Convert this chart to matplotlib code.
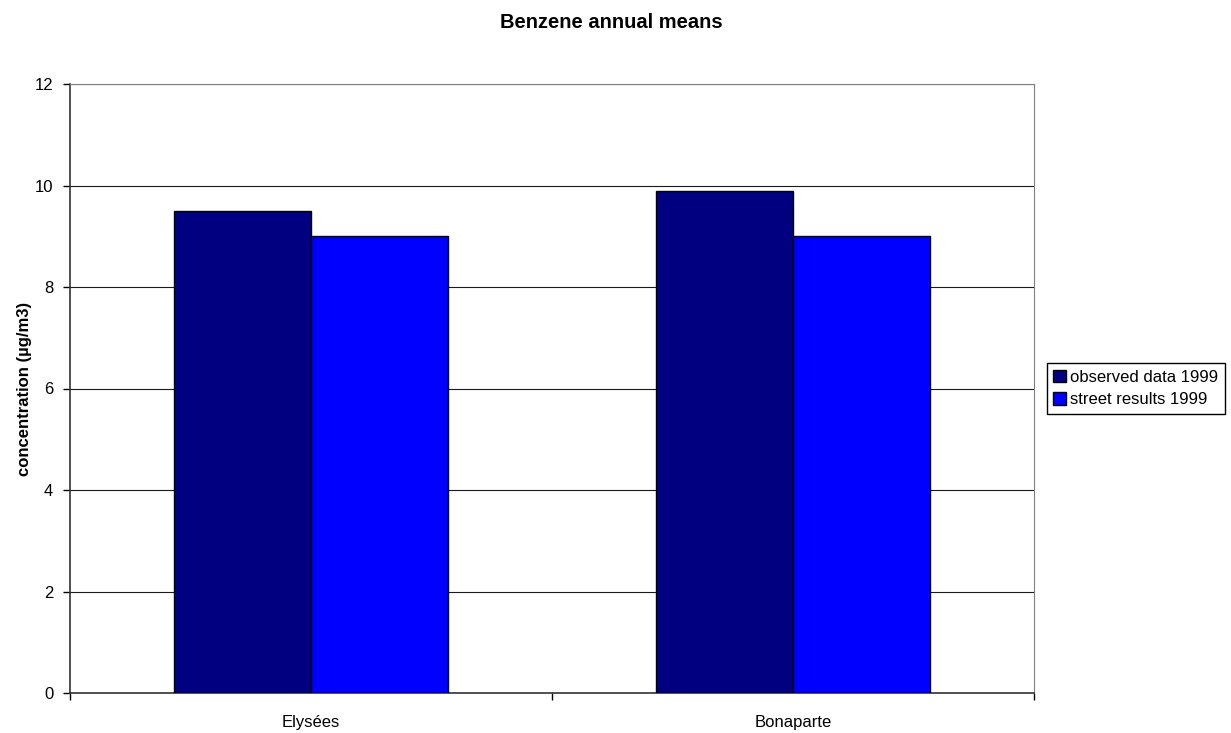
#!/usr/bin/env python3
"""Benzene annual means: observed vs street model, 1999."""
import matplotlib
matplotlib.use("Agg")
import matplotlib.pyplot as plt
import numpy as np

plt.rcParams["font.family"] = ["Liberation Sans", "DejaVu Sans"]

stations = ["Elysées", "Bonaparte"]
observed = [9.5, 9.9]
street = [9.0, 9.0]
series_labels = ["observed data 1999", "street results 1999"]
yticks = [0, 2, 4, 6, 8, 10, 12]


def main() -> None:
    fig = plt.figure(figsize=(12.31, 7.33), dpi=100)
    ax = fig.add_axes([70 / 1231, 1 - 693 / 733, 964 / 1231, 609 / 733])

    x = np.arange(len(stations))
    w = 0.285
    ax.bar(x - w / 2, observed, w, color="#000080", edgecolor="black",
           linewidth=1.0, label=series_labels[0], zorder=3)
    ax.bar(x + w / 2, street, w, color="#0000FF", edgecolor="black",
           linewidth=1.0, label=series_labels[1], zorder=3)

    ax.set_xlim(-0.5, len(stations) - 0.5)
    ax.set_ylim(0, 12)
    ax.set_yticks(yticks)
    ax.tick_params(axis="y", labelsize=12, length=5, width=1, pad=7)

    # categories labelled at centres, ticks at boundaries (Excel style)
    ax.set_xticks(x)
    ax.set_xticklabels(stations, fontsize=12)
    ax.tick_params(axis="x", which="major", length=0, pad=16)
    ax.set_xticks(np.arange(-0.5, len(stations)), minor=True)
    ax.tick_params(axis="x", which="minor", length=5, width=1)

    ax.yaxis.grid(True, color="#1a1a1a", linewidth=0.8, zorder=0)
    for s in ("top", "right"):
        ax.spines[s].set_color("#808080")
    for s in ("left", "bottom"):
        ax.spines[s].set_color("#333333")
        ax.spines[s].set_linewidth(1.2)

    ax.set_ylabel("concentration (µg/m3)", fontsize=12, fontweight="bold", labelpad=2)
    fig.text(0.4965, 1 - 23 / 733, "Benzene annual means", fontsize=14.5,
             fontweight="bold", ha="center", va="center")

    ax.legend(loc="center left", bbox_to_anchor=(1.013, 0.5), fontsize=12,
              frameon=True, fancybox=False, edgecolor="black", framealpha=1,
              handlelength=0.75, handleheight=0.75, handletextpad=0.25,
              labelspacing=0.45, borderpad=0.4, borderaxespad=0)

    fig.savefig("out.png", dpi=100)


if __name__ == "__main__":
    main()
